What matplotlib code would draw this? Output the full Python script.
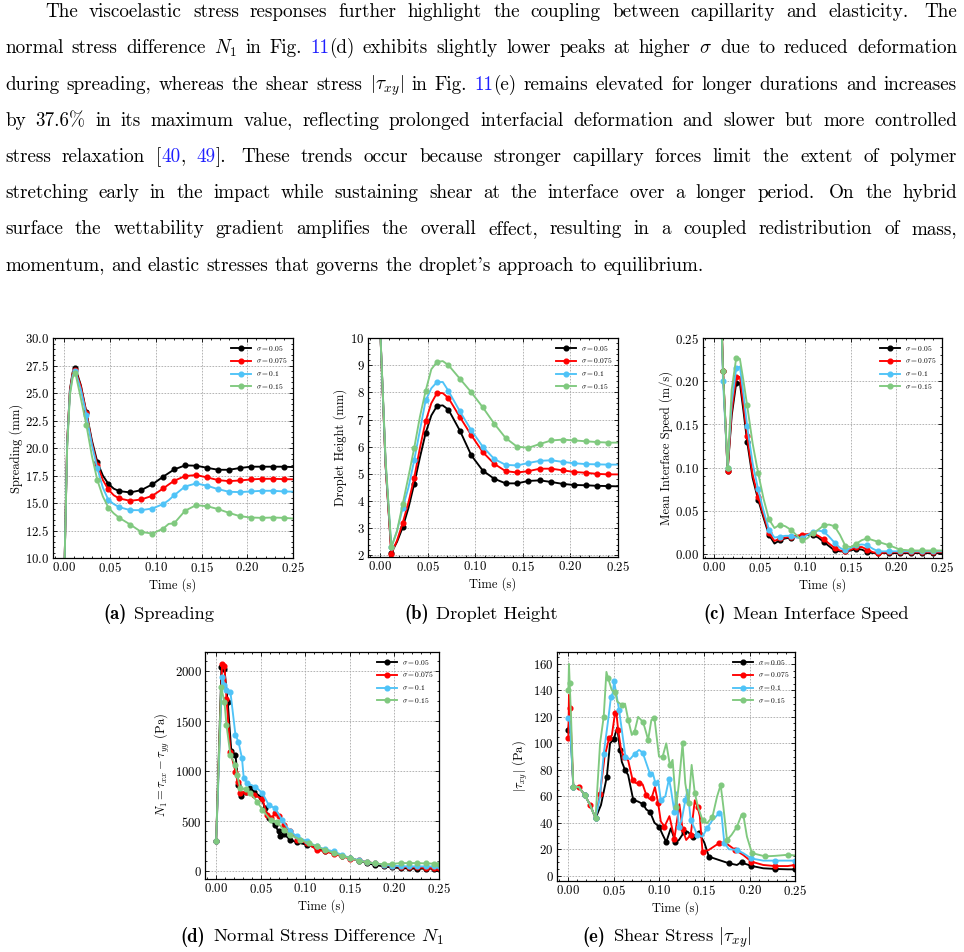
import re
import numpy as np
import matplotlib
matplotlib.use("Agg")
import matplotlib.pyplot as plt
from matplotlib.ticker import MultipleLocator, AutoMinorLocator

W, H, DPI = 964, 952, 100

# ---------------- text ----------------
PARA_LINES = [
    "The viscoelastic stress responses further highlight the coupling between capillarity and elasticity. The",
    "normal stress difference $N_1$ in Fig. @11@(d) exhibits slightly lower peaks at higher $\\sigma$ due to reduced deformation",
    "during spreading, whereas the shear stress $|\\tau_{xy}|$ in Fig. @11@(e) remains elevated for longer durations and increases",
    "by 37.6% in its maximum value, reflecting prolonged interfacial deformation and slower but more controlled",
    "stress relaxation [@40@, @49@]. These trends occur because stronger capillary forces limit the extent of polymer",
    "stretching early in the impact while sustaining shear at the interface over a longer period. On the hybrid",
    "surface the wettability gradient amplifies the overall effect, resulting in a coupled redistribution of mass,",
    "momentum, and elastic stresses that governs the droplet's approach to equilibrium.",
]
captions = [("(a)", "Spreading"), ("(b)", "Droplet Height"), ("(c)", "Mean Interface Speed"),
            ("(d)", "Normal Stress Difference $N_1$"), ("(e)", "Shear Stress $|\\tau_{xy}|$")]
sigma_labels = [r"$\sigma = 0.05$", r"$\sigma = 0.075$", r"$\sigma = 0.1$", r"$\sigma = 0.15$"]
colors = ["#000000", "#ff0000", "#4fc3f7", "#80c97f"]
LINK = "#1f1fff"

# ---------------- (a) spreading ----------------
t_a = [0.0, 0.003, 0.006, 0.009, 0.012, 0.018, 0.024, 0.030, 0.036, 0.042, 0.048, 0.054, 0.060, 0.072,
       0.084, 0.096, 0.108, 0.114, 0.120, 0.132, 0.144, 0.156, 0.168, 0.180, 0.192, 0.204, 0.216, 0.228,
       0.240, 0.250]
spread_005 = [9.0, 20.5, 25.3, 26.9, 27.26, 25.7, 23.25, 20.7, 18.72, 17.5, 16.75, 16.3, 16.08, 15.96,
              16.17, 16.69, 17.39, 17.72, 18.05, 18.42, 18.39, 18.2, 18.02, 18.02, 18.18, 18.3, 18.3, 18.3,
              18.3, 18.27]
spread_0075 = [9.0, 20.5, 25.2, 26.8, 27.1, 25.6, 23.2, 20.5, 18.45, 17.1, 16.23, 15.7, 15.41, 15.2,
               15.32, 15.65, 16.32, 16.68, 17.02, 17.45, 17.54, 17.33, 17.08, 16.99, 17.05, 17.14, 17.2,
               17.2, 17.17, 17.15]
spread_01 = [9.0, 20.3, 25.0, 26.6, 26.96, 25.3, 23.0, 20.3, 18.15, 16.4, 15.29, 14.9, 14.62, 14.35,
             14.35, 14.5, 14.9, 15.25, 15.7, 16.5, 16.78, 16.57, 16.26, 16.02, 15.99, 16.05, 16.11, 16.11,
             16.05, 16.03]
spread_015 = [9.0, 20.0, 24.8, 26.4, 26.8, 24.5, 22.1, 19.3, 17.08, 15.6, 14.59, 14.05, 13.65, 13.04,
              12.37, 12.22, 12.67, 13.1, 13.15, 14.3, 14.8, 14.71, 14.45, 14.1, 13.8, 13.68, 13.65, 13.68,
              13.65, 13.59]

# ---------------- (b) droplet height ----------------
t_b = [0.0, 0.006, 0.012, 0.018, 0.024, 0.030, 0.036, 0.042, 0.048, 0.054, 0.060, 0.066, 0.072, 0.084,
       0.096, 0.108, 0.120, 0.132, 0.144, 0.156, 0.168, 0.180, 0.192, 0.204, 0.216, 0.228, 0.240, 0.250]
height_005 = [10.6, 5.3, 2.09, 2.5, 3.04, 3.75, 4.63, 5.6, 6.5, 7.15, 7.5, 7.52, 7.36, 6.59, 5.68, 5.12,
              4.82, 4.65, 4.65, 4.74, 4.76, 4.7, 4.63, 4.59, 4.58, 4.56, 4.55, 4.54]
height_0075 = [10.6, 5.3, 2.06, 2.55, 3.2, 3.95, 4.85, 5.95, 6.93, 7.6, 7.98, 7.97, 7.79, 7.09, 6.42, 5.8,
               5.37, 5.1, 5.05, 5.1, 5.19, 5.19, 5.13, 5.07, 5.04, 5.0, 4.98, 4.98]
height_01 = [10.6, 5.4, 2.3, 2.9, 3.75, 4.5, 5.5, 6.6, 7.7, 8.15, 8.38, 8.38, 8.05, 7.3, 6.6, 6.0, 5.55,
             5.33, 5.31, 5.4, 5.48, 5.5, 5.44, 5.39, 5.36, 5.35, 5.34, 5.34]
height_015 = [10.6, 5.5, 2.3, 2.9, 3.9, 4.9, 5.95, 7.1, 8.05, 8.85, 9.12, 9.15, 9.0, 8.5, 8.0, 7.45, 6.85,
              6.32, 6.0, 5.96, 6.1, 6.23, 6.26, 6.23, 6.2, 6.17, 6.15, 6.15]

# ---------------- (c) mean interface speed ----------------
t_c = [0.007, 0.0095, 0.0145, 0.019, 0.024, 0.028, 0.032, 0.036, 0.042, 0.048, 0.054, 0.060, 0.066, 0.072,
       0.078, 0.084, 0.090, 0.096, 0.102, 0.108, 0.114, 0.120, 0.126, 0.132, 0.138, 0.144, 0.150, 0.156,
       0.162, 0.168, 0.174, 0.180, 0.192, 0.204, 0.216, 0.228, 0.240, 0.250]
speed_005 = [0.30, 0.212, 0.096, 0.160, 0.198, 0.198, 0.165, 0.130, 0.088, 0.063, 0.042, 0.022, 0.012,
             0.016, 0.018, 0.019, 0.020, 0.021, 0.022, 0.022, 0.019, 0.014, 0.009, 0.004, 0.003, 0.003,
             0.004, 0.006, 0.005, 0.002, 0.001, 0.001, 0.001, 0.001, 0.001, 0.001, 0.001, 0.001]
speed_0075 = [0.30, 0.212, 0.096, 0.165, 0.205, 0.205, 0.172, 0.136, 0.092, 0.066, 0.045, 0.024, 0.015,
              0.018, 0.019, 0.020, 0.021, 0.022, 0.023, 0.024, 0.021, 0.017, 0.012, 0.007, 0.004, 0.003,
              0.005, 0.008, 0.008, 0.005, 0.002, 0.001, 0.002, 0.002, 0.002, 0.002, 0.002, 0.002]
speed_01 = [0.30, 0.200, 0.100, 0.175, 0.215, 0.217, 0.185, 0.148, 0.105, 0.075, 0.050, 0.028, 0.019,
            0.020, 0.021, 0.021, 0.019, 0.018, 0.022, 0.025, 0.027, 0.026, 0.020, 0.013, 0.007, 0.004,
            0.007, 0.010, 0.011, 0.010, 0.006, 0.003, 0.003, 0.003, 0.003, 0.003, 0.003, 0.003]
speed_015 = [0.30, 0.212, 0.100, 0.190, 0.227, 0.226, 0.200, 0.172, 0.128, 0.094, 0.064, 0.040, 0.030,
             0.034, 0.032, 0.028, 0.022, 0.016, 0.018, 0.024, 0.028, 0.033, 0.034, 0.032, 0.022, 0.009,
             0.008, 0.012, 0.016, 0.018, 0.016, 0.014, 0.010, 0.005, 0.004, 0.004, 0.004, 0.004]

# ---------------- (d) normal stress difference ----------------
t_d_005 = [0, 0.006, 0.0093, 0.013, 0.017, 0.0217, 0.025, 0.028, 0.033, 0.038, 0.042, 0.050, 0.055, 0.059,
           0.066, 0.070, 0.072, 0.0758, 0.083, 0.091, 0.102, 0.113, 0.122, 0.132, 0.141, 0.150, 0.160,
           0.169, 0.178, 0.188, 0.197, 0.207, 0.216, 0.225, 0.235, 0.244, 0.25]
n1_005 = [300, 2043, 2020, 1694, 1203, 1163, 864, 757, 797, 830, 797, 747, 631, 531, 460, 400, 349, 375,
          316, 289, 266, 233, 207, 183, 158, 133, 108, 83, 65, 50, 40, 33, 30, 27, 27, 27, 27]
t_d_0075 = [0, 0.0067, 0.0093, 0.0116, 0.016, 0.0217, 0.024, 0.027, 0.033, 0.042, 0.052, 0.057, 0.062,
            0.066, 0.070, 0.0758, 0.083, 0.091, 0.102, 0.113, 0.122, 0.132, 0.141, 0.150, 0.160, 0.169,
            0.178, 0.188, 0.197, 0.207, 0.216, 0.225, 0.235, 0.244, 0.25]
n1_0075 = [300, 2076, 2053, 1728, 1196, 997, 897, 781, 797, 764, 724, 565, 531, 581, 558, 465, 399, 316,
           282, 216, 200, 175, 150, 128, 110, 95, 80, 67, 55, 47, 42, 40, 36, 33, 33]
t_d_01 = [0, 0.0067, 0.0093, 0.0116, 0.016, 0.0217, 0.025, 0.029, 0.031, 0.035, 0.044, 0.052, 0.059,
          0.066, 0.074, 0.083, 0.091, 0.102, 0.113, 0.122, 0.132, 0.141, 0.150, 0.160, 0.169, 0.178, 0.188,
          0.197, 0.207, 0.216, 0.225, 0.235, 0.244, 0.25]
n1_01 = [300, 1944, 1860, 1811, 1794, 1362, 1296, 1130, 930, 880, 847, 781, 664, 631, 515, 399, 349, 299,
         249, 222, 199, 165, 133, 112, 93, 80, 67, 58, 52, 50, 50, 50, 50, 50]
t_d_015 = [0, 0.0056, 0.0093, 0.0116, 0.016, 0.0217, 0.0235, 0.027, 0.033, 0.0385, 0.046, 0.052, 0.061,
           0.068, 0.0758, 0.083, 0.0945, 0.104, 0.113, 0.122, 0.132, 0.141, 0.150, 0.160, 0.169, 0.178,
           0.188, 0.197, 0.207, 0.216, 0.225, 0.235, 0.244, 0.25]
n1_015 = [300, 1844, 1694, 1462, 1163, 1063, 963, 831, 821, 781, 698, 615, 515, 498, 415, 365, 316, 280,
          249, 215, 183, 158, 133, 108, 90, 80, 70, 75, 83, 83, 83, 80, 78, 77]

# ---------------- (e) shear stress ----------------
t_e_005 = [0.0, 0.0015, 0.0055, 0.0116, 0.018, 0.024, 0.030, 0.036, 0.0425, 0.046, 0.050, 0.054, 0.057,
           0.059, 0.0625, 0.066, 0.0716, 0.077, 0.0825, 0.086, 0.090, 0.095, 0.100, 0.104, 0.108, 0.113,
           0.118, 0.122, 0.128, 0.1315, 0.137, 0.140, 0.144, 0.150, 0.155, 0.166, 0.177, 0.186, 0.1915,
           0.195, 0.202, 0.215, 0.228, 0.242, 0.25]
tau_005 = [110, 122, 67.3, 67, 61, 53.5, 43.4, 53.4, 74.9, 100, 103, 112, 95, 86, 80, 76, 57.2, 56, 54,
           50, 48.4, 40, 37.1, 31, 25.5, 35.8, 25.7, 27, 33.3, 33.3, 29.5, 30.8, 32.5, 25, 14.4, 11.9, 9.4,
           8.1, 10.6, 9.0, 7.4, 5.6, 5.1, 4.8, 4.8]
t_e_0075 = [0.0, 0.0007, 0.002, 0.0055, 0.0116, 0.018, 0.024, 0.030, 0.035, 0.040, 0.045, 0.048, 0.0515,
            0.053, 0.055, 0.058, 0.061, 0.066, 0.071, 0.0745, 0.078, 0.082, 0.086, 0.0895, 0.092, 0.0955,
            0.099, 0.102, 0.106, 0.1115, 0.117, 0.1225, 0.126, 0.130, 0.135, 0.1395, 0.1425, 0.145, 0.148,
            0.155, 0.166, 0.173, 0.184, 0.193, 0.202, 0.215, 0.228, 0.242, 0.25]
tau_0075 = [103.8, 136.6, 126.5, 67.3, 67, 61, 53.5, 43.4, 62, 90, 104, 106, 123, 123, 110, 96, 90, 87,
            72, 70, 70, 69, 61, 58, 59, 67, 55, 41, 37, 45, 28, 54, 35, 27, 30.8, 57, 52, 45, 18, 19.5,
            24.5, 25, 19.5, 15.6, 10.6, 8.1, 7.3, 7.3, 8.1]
t_e_01 = [0.0, 0.0015, 0.0055, 0.0116, 0.018, 0.024, 0.030, 0.035, 0.039, 0.044, 0.047, 0.049, 0.0505,
          0.0535, 0.056, 0.060, 0.063, 0.068, 0.073, 0.078, 0.082, 0.086, 0.090, 0.093, 0.096, 0.099, 0.102,
          0.107, 0.111, 0.113, 0.117, 0.119, 0.122, 0.125, 0.129, 0.1315, 0.135, 0.139, 0.142, 0.148, 0.153,
          0.159, 0.166, 0.169, 0.172, 0.177, 0.186, 0.193, 0.202, 0.215, 0.228, 0.242, 0.25]
tau_01 = [119, 118, 67, 67, 61, 53.5, 43.4, 60, 92, 118, 135, 138, 147, 135, 125, 105, 90, 88, 92, 95, 93,
          85, 77, 78, 70, 72, 57, 60, 73, 66, 48, 63, 37, 42, 57, 65, 42, 36, 31, 29.5, 36, 42, 47, 46, 25,
          20, 19.5, 17, 13, 11.4, 11.4, 11.4, 11.4]
t_e_015 = [0.0, 0.0007, 0.0015, 0.003, 0.0055, 0.0116, 0.018, 0.024, 0.030, 0.035, 0.039, 0.042, 0.044,
           0.048, 0.0516, 0.054, 0.059, 0.0625, 0.066, 0.070, 0.073, 0.077, 0.0825, 0.086, 0.088, 0.0916,
           0.095, 0.100, 0.104, 0.108, 0.112, 0.115, 0.119, 0.122, 0.126, 0.129, 0.1326, 0.136, 0.1395,
           0.143, 0.148, 0.153, 0.159, 0.164, 0.168, 0.171, 0.175, 0.180, 0.186, 0.191, 0.193, 0.197,
           0.2025, 0.210, 0.217, 0.228, 0.242, 0.25]
tau_015 = [140, 160, 145.4, 120, 67.3, 67, 61, 53.5, 43.4, 100, 120, 154, 149, 140, 139, 131.5, 129, 130,
           118, 106.3, 108.8, 120, 116, 107.7, 102.6, 117.7, 119, 90, 90, 100, 83.7, 87.5, 52, 69.8, 100,
           69.8, 54.7, 83.7, 62.3, 52, 42, 39.6, 44.6, 59.7, 68.6, 52, 27, 30.8, 37, 45.9, 45.9, 29.5, 17.1,
           15.8, 14.6, 15, 15.8, 15.3]

# ---------------- style ----------------
plt.rcParams.update({
    "font.family": "cmr10",
    "mathtext.fontset": "cm",
    "axes.formatter.use_mathtext": True,
    "axes.unicode_minus": False,
})

fig = plt.figure(figsize=(W / DPI, H / DPI), dpi=DPI)
renderer = fig.canvas.get_renderer()

TICK_FS, LABEL_FS, LEG_FS = 9.2, 9.0, 5.4


def px_axes(l, t, r, b):
    return fig.add_axes([l / W, 1 - b / H, (r - l) / W, (b - t) / H])


def mark012(t):
    return [(ti > 0.001) and abs(ti / 0.012 - round(ti / 0.012)) < 1e-6 for ti in t]


def style(ax, ylim, ystep, ylabel):
    ax.set_xlim(-0.0125, 0.25)
    ax.set_ylim(*ylim)
    ax.xaxis.set_major_locator(MultipleLocator(0.05))
    ax.yaxis.set_major_locator(MultipleLocator(ystep))
    ax.xaxis.set_minor_locator(AutoMinorLocator())
    ax.yaxis.set_minor_locator(AutoMinorLocator())
    ax.tick_params(which="both", direction="in", top=True, right=True, labelsize=TICK_FS, width=0.6,
                   pad=2.5)
    ax.tick_params(which="major", length=3.2)
    ax.tick_params(which="minor", length=1.7)
    ax.grid(True, which="major", color="#a8a8a8", linestyle=(0, (2.0, 1.6)), linewidth=0.6)
    ax.set_axisbelow(True)
    for s in ax.spines.values():
        s.set_linewidth(0.9)
    ax.set_xlabel("Time (s)", fontsize=LABEL_FS, labelpad=2)
    ax.set_ylabel(ylabel, fontsize=LABEL_FS, labelpad=2)
    ax.legend(loc="upper right", frameon=False, fontsize=LEG_FS, handlelength=2.6, handletextpad=0.7,
              labelspacing=0.5, borderaxespad=0.35)


LW, MS = 1.35, 3.4

ax_a = px_axes(53, 338, 293, 558)
for y, c, lab in zip([spread_005, spread_0075, spread_01, spread_015], colors, sigma_labels):
    ax_a.plot(t_a, y, color=c, lw=LW, marker="o", ms=MS, markevery=mark012(t_a), label=lab)
style(ax_a, (10, 30), 2.5, "Spreading (mm)")

ax_b = px_axes(368, 338, 618, 557)
for y, c, lab in zip([height_005, height_0075, height_01, height_015], colors, sigma_labels):
    ax_b.plot(t_b, y, color=c, lw=LW, marker="o", ms=MS, markevery=mark012(t_b), label=lab)
style(ax_b, (1.94, 10), 1, "Droplet Height (mm)")

ax_c = px_axes(703, 338, 942, 558)
mk_c = [m or (ti in (0.0095, 0.0145)) for m, ti in zip(mark012(t_c), t_c)]
for y, c, lab in zip([speed_005, speed_0075, speed_01, speed_015], colors, sigma_labels):
    ax_c.plot(t_c, y, color=c, lw=LW, marker="o", ms=MS, markevery=mk_c, label=lab)
style(ax_c, (-0.0047, 0.25), 0.05, "Mean Interface Speed (m/s)")

ax_d = px_axes(205, 652, 439, 879)
for tt, y, c, lab in zip([t_d_005, t_d_0075, t_d_01, t_d_015], [n1_005, n1_0075, n1_01, n1_015],
                         colors, sigma_labels):
    ax_d.plot(tt, y, color=c, lw=LW, marker="o", ms=MS, label=lab)
style(ax_d, (-76, 2193), 500, r"$N_1 = \tau_{xx} - \tau_{yy}$ (Pa)")

ax_e = px_axes(557, 652, 795, 881)
for tt, y, c, lab in zip([t_e_005, t_e_0075, t_e_01, t_e_015], [tau_005, tau_0075, tau_01, tau_015],
                         colors, sigma_labels):
    ax_e.plot(tt, y, color=c, lw=LW, marker="o", ms=MS, markevery=2, label=lab)
style(ax_e, (-4, 169), 20, r"$|\tau_{xy}|$ (Pa)")


# ---------------- text helpers ----------------
def measure(s, size, family=None):
    kw = {"fontsize": size}
    if family:
        kw["family"] = family
    t = fig.text(0, 0, s, **kw)
    w = t.get_window_extent(renderer=renderer).width
    t.remove()
    return w


def put(x, yb, s, size, color="black", family=None):
    kw = {"fontsize": size, "color": color, "va": "baseline", "ha": "left"}
    if family:
        kw["family"] = family
    fig.text(x / W, 1 - yb / H, s, **kw)


# paragraph (justified)
lines_tok = []
for line in PARA_LINES:
    toks = []
    for word in line.split(" "):
        segs = [(s.strip("@"), LINK if s.startswith("@") else "black")
                for s in re.split(r"(@[^@]*@)", word) if s]
        toks.append(segs)
    lines_tok.append(toks)

X_IND, X_LEFT, X_RIGHT = 45, 5, 957
base = 10.0
ratios = []
for i, toks in enumerate(lines_tok[:-1]):
    x0 = X_IND if i == 0 else X_LEFT
    wsum = sum(measure(s, base) for tok in toks for s, _ in tok)
    nat = wsum + (len(toks) - 1) * 0.333 * base * DPI / 72
    ratios.append((X_RIGHT - x0) / nat)
PSIZE = base * float(min(ratios)) * 0.99

Y0, DY = 17.0, 36.25
for i, toks in enumerate(lines_tok):
    x0 = X_IND if i == 0 else X_LEFT
    yb = Y0 + DY * i
    widths = [[measure(s, PSIZE) for s, _ in tok] for tok in toks]
    tw = [sum(w) for w in widths]
    weights = [1.4 if (tok[-1][0].endswith(".") and tok[-1][0] != "Fig.") else 1.0 for tok in toks[:-1]]
    if i < len(lines_tok) - 1:
        unit = (X_RIGHT - x0 - sum(tw)) / sum(weights)
    else:
        unit = 0.333 * PSIZE * DPI / 72
    x = x0
    for k, tok in enumerate(toks):
        for (s, col), w in zip(tok, widths[k]):
            put(x, yb, s, PSIZE, col)
            x += w
        if k < len(weights):
            x += unit * weights[k]

# captions
CSIZE = 13.4
cap_pos = [(159, 619), (481, 619), (806, 619), (312, 942), (667, 942)]
for (lab, title), (xc, yb) in zip(captions, cap_pos):
    w1 = measure(lab, CSIZE, "cmb10")
    w2 = measure(title, CSIZE)
    gap = 0.4 * CSIZE * DPI / 72
    x = xc - (w1 + gap + w2) / 2
    put(x, yb, lab, CSIZE, family="cmb10")
    put(x + w1 + gap, yb, title, CSIZE)

fig.savefig("out.png", dpi=DPI)
